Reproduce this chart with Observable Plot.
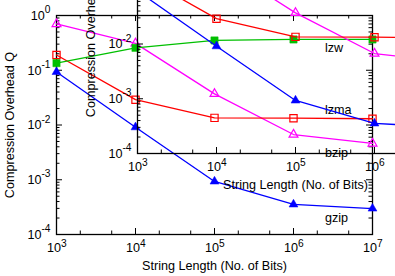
<!DOCTYPE html>
<html>
<head>
<meta charset="utf-8">
<script src="https://cdn.jsdelivr.net/npm/d3@7"></script>
<script src="https://cdn.jsdelivr.net/npm/@observablehq/plot@0.6"></script>
<style>
  html, body { margin: 0; padding: 0; background: white; }
  #wrap { position: relative; width: 395px; height: 276px; overflow: hidden; background: white; }
  #wrap svg { position: absolute; }
</style>
</head>
<body>
<div id="wrap"></div>
<script>
// ---- data ----
const stringLengths = [1e3, 1e4, 1e5, 1e6, 1e7];
const gzip = [0.093, 0.0091, 0.00093, 0.000354, 0.000298];
const bzip = [0.70, 0.31, 0.037, 0.0067, 0.0046];
const lzma = [0.19, 0.029, 0.0135, 0.0133, 0.013];
const lzw  = [0.135, 0.257, 0.35, 0.365, 0.365];
const seriesNames = ["gzip", "bzip", "lzma", "lzw"];
const xTicks = [1e3, 1e4, 1e5, 1e6, 1e7];
const xTickExp = ["3", "4", "5", "6", "7"];
const yTicks = [1e-4, 1e-3, 1e-2, 1e-1, 1];
const yTickExp = ["-4", "-3", "-2", "-1", "0"];
const xTitle = "String Length (No. of Bits)";
const yTitle = "Compression Overhead Q";
// label anchors (data space)
const labelX = 2.5e6;
const labelY = [0.000168, 0.00255, 0.0156, 0.216];

// ---- styles ----
const colors = {gzip: "#0000ff", bzip: "#ff00ff", lzma: "#ff0000", lzw: "#00c000"};
const symbols = {gzip: "triangle", bzip: "triangle", lzma: "square", lzw: "square"};
const filled = {gzip: true, bzip: false, lzma: false, lzw: true};

const values = {gzip, bzip, lzma, lzw};
const rows = seriesNames.flatMap(s => stringLengths.map((x, i) => ({series: s, x, y: values[s][i]})));
const labels = seriesNames.map((s, i) => ({text: s, x: labelX, y: labelY[i]}));

const xMinor = [];
for (const d of xTicks.slice(0, -1)) for (const m of [2, 5]) xMinor.push(d * m);
const yMinor = [];
for (const d of yTicks.slice(0, -1)) for (let m = 2; m <= 9; m++) yMinor.push(d * m);

const W = 395, H = 276, mL = 56, mR = 23, mT = 15, mB = 42;
const pw = W - mL - mR, ph = H - mT - mB;
const FONT = "'Liberation Sans', Arial, Helvetica, sans-serif";

const ctx = document.createElement("canvas").getContext("2d");
function tw(t, size) { ctx.font = `${size}px ${FONT}`; return ctx.measureText(t).width; }
const FS = 12.6, FSE = 10.2;

function chart() {
  const marks = [];
  // ticks
  const MJ = 6, MN = 3.5;
  marks.push(
    Plot.tickX(xTicks, {x: d => d, insetTop: ph - MJ, stroke: "black", strokeWidth: 1}),
    Plot.tickX(xTicks, {x: d => d, insetBottom: ph - MJ, stroke: "black", strokeWidth: 1}),
    Plot.tickX(xMinor, {x: d => d, insetTop: ph - MN, stroke: "black", strokeWidth: 1}),
    Plot.tickX(xMinor, {x: d => d, insetBottom: ph - MN, stroke: "black", strokeWidth: 1}),
    Plot.tickY(yTicks, {y: d => d, insetRight: pw - MJ, stroke: "black", strokeWidth: 1}),
    Plot.tickY(yTicks, {y: d => d, insetLeft: pw - MJ, stroke: "black", strokeWidth: 1}),
    Plot.tickY(yMinor, {y: d => d, insetRight: pw - MN, stroke: "black", strokeWidth: 1}),
    Plot.tickY(yMinor, {y: d => d, insetLeft: pw - MN, stroke: "black", strokeWidth: 1}),
    Plot.frame({stroke: "black", strokeWidth: 1.3})
  );
  // tick labels: "10" + superscript exponent
  marks.push(
    Plot.text(xTicks, {x: d => d, frameAnchor: "bottom", text: () => "10", textAnchor: "end", dx: 4.5, dy: 17.5, lineAnchor: "bottom", fontSize: FS, fill: "black"}),
    Plot.text(xTicks, {x: d => d, frameAnchor: "bottom", text: (d, i) => xTickExp[i], textAnchor: "start", dx: 4.5, dy: 12, lineAnchor: "bottom", fontSize: FSE, fill: "black"}),
    Plot.text(yTicks, {y: d => d, frameAnchor: "left", text: (d, i) => yTickExp[i], textAnchor: "end", dx: -6, dy: -2.3, lineAnchor: "bottom", fontSize: FSE, fill: "black"}),
  );
  yTicks.forEach((t, i) => {
    marks.push(Plot.text([t], {y: d => d, frameAnchor: "left", text: () => "10", textAnchor: "end", dx: -6 - tw(yTickExp[i], FSE), dy: 4.3, lineAnchor: "bottom", fontSize: FS, fill: "black"}));
  });
  // titles
  marks.push(
    Plot.text([xTitle], {frameAnchor: "bottom", text: d => d, textAnchor: "middle", dy: 35.5, lineAnchor: "bottom", fontSize: FS, fill: "black"}),
    Plot.text([yTitle], {frameAnchor: "left", text: d => d, textAnchor: "middle", rotate: -90, dx: -(mL - 13.5), lineAnchor: "bottom", fontSize: FS, fill: "black"})
  );
  // series
  for (const s of seriesNames) {
    const d = rows.filter(r => r.series === s);
    marks.push(Plot.line(d, {x: "x", y: "y", stroke: colors[s], strokeWidth: 1.3}));
    const size = symbols[s] === "square" ? 4.1 : 3.3;
    marks.push(Plot.dot(d, {x: "x", y: "y", symbol: symbols[s], r: size,
      fill: filled[s] ? colors[s] : "none", stroke: colors[s], strokeWidth: filled[s] ? 0.5 : 1.2}));
  }
  marks.push(Plot.text(labels, {x: "x", y: "y", text: "text", textAnchor: "start", lineAnchor: "bottom", fontSize: FS, fill: "black"}));

  return Plot.plot({
    width: W, height: H,
    marginLeft: mL, marginRight: mR, marginTop: mT, marginBottom: mB,
    x: {type: "log", domain: [1e3, 1e7], axis: null},
    y: {type: "log", domain: [1e-4, 1], axis: null},
    style: {background: "transparent", fontFamily: FONT, fontSize: FS + "px", overflow: "visible", maxWidth: "none"},
    marks
  });
}

const wrap = document.getElementById("wrap");
const main = chart();
main.style.left = "0px"; main.style.top = "0px";
wrap.appendChild(main);
const inset = chart();
inset.style.left = "80.5px"; inset.style.top = "-81px";
wrap.appendChild(inset);
</script>
</body>
</html>
